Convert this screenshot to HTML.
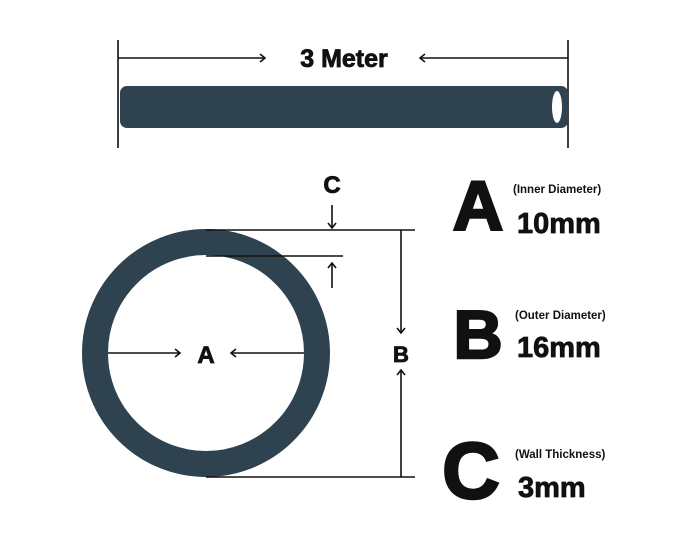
<!DOCTYPE html>
<html><head><style>
body{margin:0;background:#fff}
svg{display:block}
text{font-family:"Liberation Sans",sans-serif;font-weight:bold;fill:#111}
.h{stroke:#111;stroke-width:0.8}
.H{stroke:#111;stroke-width:2.5}
</style></head><body>
<svg width="700" height="560" viewBox="0 0 700 560" xmlns="http://www.w3.org/2000/svg">
<g stroke="#111" stroke-width="1.6" fill="none">
<line x1="118" y1="40" x2="118" y2="148"/>
<line x1="568" y1="40" x2="568" y2="148"/>
<line x1="118" y1="58" x2="265" y2="58"/>
<polyline points="260,54 265,58 260,62"/>
<line x1="420" y1="58" x2="568" y2="58"/>
<polyline points="425,54 420,58 425,62"/>
</g>
<rect x="120" y="86" width="448" height="42" rx="7" fill="#2e4250"/>
<ellipse cx="557" cy="107" rx="5" ry="16" fill="#fff"/>
<text class="h" x="344" y="67" font-size="25" text-anchor="middle">3 Meter</text>

<circle cx="206" cy="353" r="111" fill="none" stroke="#2e4250" stroke-width="26"/>
<g stroke="#111" stroke-width="1.6" fill="none">
<line x1="206" y1="230" x2="415" y2="230"/>
<line x1="206" y1="256" x2="343" y2="256"/>
<line x1="206" y1="477" x2="415" y2="477"/>
<line x1="332" y1="205" x2="332" y2="228"/>
<polyline points="328,223 332,228 336,223"/>
<line x1="332" y1="288" x2="332" y2="263"/>
<polyline points="328,268 332,263 336,268"/>
<line x1="401" y1="230" x2="401" y2="333"/>
<polyline points="397,328 401,333 405,328"/>
<line x1="401" y1="477" x2="401" y2="370"/>
<polyline points="397,375 401,370 405,375"/>
<line x1="108" y1="353" x2="180" y2="353"/>
<polyline points="175,349 180,353 175,357"/>
<line x1="304" y1="353" x2="231" y2="353"/>
<polyline points="236,349 231,353 236,357"/>
</g>
<text class="h" x="332" y="193" font-size="24" text-anchor="middle">C</text>
<text class="h" x="206" y="363" font-size="24" text-anchor="middle">A</text>
<text class="h" x="401" y="362" font-size="22" text-anchor="middle">B</text>

<text class="H" x="478" y="230" font-size="70" text-anchor="middle">A</text>
<text class="H" x="478" y="358" font-size="68" text-anchor="middle">B</text>
<text class="H" x="471" y="498" font-size="80" text-anchor="middle">C</text>
<text x="513" y="193" font-size="11.5">(Inner Diameter)</text>
<text class="h" x="517" y="233" font-size="29">10mm</text>
<text x="515" y="319" font-size="11.5">(Outer Diameter)</text>
<text class="h" x="517" y="357" font-size="29">16mm</text>
<text x="515" y="458" font-size="11.5">(Wall Thickness)</text>
<text class="h" x="518" y="497" font-size="29">3mm</text>
</svg>
</body></html>
